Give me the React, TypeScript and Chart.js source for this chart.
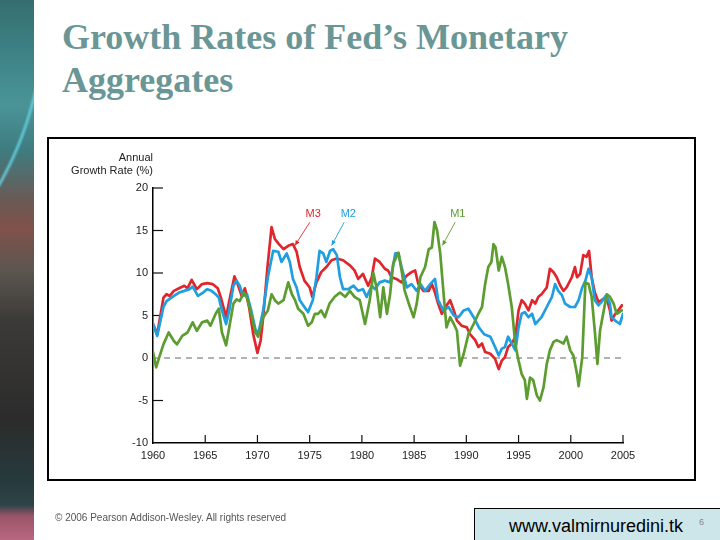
import React, { useEffect, useRef } from 'react';
import { Chart, registerables } from 'chart.js';

Chart.register(...registerables);

// ---------- axis ----------
const X_MIN = 1960;
const X_MAX = 2005;
const Y_MIN = -10;
const Y_MAX = 20;
const X_TICKS = [1960, 1965, 1970, 1975, 1980, 1985, 1990, 1995, 2000, 2005];
const Y_TICKS = [20, 15, 10, 5, 0, -5, -10];

// ---------- M3 (red) ----------
const m3Dates = [
  1960.0, 1960.4, 1961.0, 1961.3, 1961.6, 1962.0, 1962.5, 1963.0, 1963.3, 1963.7,
  1964.2, 1964.7, 1965.2, 1965.7, 1966.2, 1966.5, 1967.0, 1967.3, 1967.8, 1968.1,
  1968.5, 1968.8, 1969.2, 1969.6, 1970.0, 1970.3, 1970.55, 1970.96, 1971.35, 1971.67,
  1972.05, 1972.5, 1972.95, 1973.4, 1973.75, 1974.05, 1974.5, 1975.0, 1975.25, 1975.65,
  1976.1, 1976.6, 1977.1, 1977.6, 1978.2, 1978.85, 1979.3, 1979.65, 1980.1, 1980.6,
  1980.95, 1981.25, 1981.7, 1982.2, 1982.5, 1982.85, 1983.3, 1983.8, 1984.3, 1984.75,
  1985.1, 1985.4, 1985.9, 1986.4, 1986.7, 1987.0, 1987.3, 1987.65, 1988.0, 1988.45,
  1988.8, 1989.1, 1989.55, 1990.05, 1990.35, 1990.85, 1991.15, 1991.5, 1991.8, 1992.3,
  1992.75, 1993.1, 1993.4, 1993.7, 1994.0, 1994.35, 1994.7, 1995.0, 1995.3, 1995.6,
  1995.95, 1996.3, 1996.6, 1996.9, 1997.2, 1997.7, 1998.0, 1998.35, 1998.65, 1999.0,
  1999.3, 1999.6, 2000.1, 2000.4, 2000.6, 2000.9, 2001.2, 2001.5, 2001.75, 2002.0,
  2002.3, 2002.65, 2002.95, 2003.4, 2003.75, 2003.9, 2004.25, 2004.55, 2004.9,
];
const m3Rates = [
  4.0, 2.8, 7.1, 7.5, 7.3, 7.9, 8.2, 8.5, 8.2, 9.2,
  8.1, 8.7, 8.8, 8.7, 8.2, 7.1, 4.8, 6.7, 9.6, 8.7,
  7.3, 8.2, 6.0, 2.8, 0.6, 2.0, 4.8, 10.7, 15.4, 14.0,
  13.4, 12.8, 13.2, 13.4, 12.5, 10.7, 9.1, 8.3, 7.2, 8.9,
  10.1, 10.7, 11.5, 11.7, 11.5, 10.9, 10.3, 9.3, 9.9, 8.5,
  9.5, 11.7, 11.3, 10.5, 10.3, 9.5, 9.3, 8.9, 9.7, 10.1,
  10.3, 8.7, 7.9, 7.9, 8.7, 7.7, 6.4, 5.2, 6.0, 6.8,
  5.6, 4.4, 3.8, 3.6, 2.8, 2.1, 1.3, 1.7, 0.7, 0.5,
  -0.1, -1.3, -0.3, 0.1, 1.3, 1.7, 2.5, 5.6, 6.8, 6.4,
  5.6, 6.8, 6.4, 7.2, 7.5, 8.3, 10.5, 10.1, 9.5, 8.5,
  7.9, 8.3, 9.5, 10.7, 9.5, 9.9, 12.1, 11.9, 12.6, 9.5,
  7.7, 6.6, 6.8, 7.2, 5.6, 4.4, 5.2, 5.6, 6.2,
];

// ---------- M2 (blue) ----------
const m2Dates = [
  1960.0, 1960.4, 1961.0, 1961.3, 1962.0, 1962.5, 1963.0, 1963.5, 1963.8, 1964.3,
  1964.8, 1965.2, 1965.6, 1966.0, 1966.3, 1966.6, 1967.0, 1967.3, 1967.7, 1968.0,
  1968.3, 1968.6, 1969.0, 1969.4, 1969.8, 1970.07, 1970.55, 1971.0, 1971.5, 1972.0,
  1972.3, 1972.8, 1973.1, 1973.4, 1973.75, 1974.05, 1974.5, 1974.85, 1975.3, 1975.65,
  1975.95, 1976.3, 1976.6, 1976.95, 1977.25, 1977.6, 1977.9, 1978.2, 1978.7, 1979.2,
  1979.65, 1980.1, 1980.45, 1980.95, 1981.25, 1981.7, 1982.2, 1982.7, 1983.2, 1983.5,
  1983.8, 1984.3, 1984.75, 1985.25, 1985.6, 1986.05, 1986.55, 1987.0, 1987.3, 1987.8,
  1988.3, 1988.8, 1989.25, 1989.75, 1990.2, 1990.7, 1991.2, 1991.7, 1992.3, 1992.75,
  1993.1, 1993.4, 1993.7, 1994.0, 1994.35, 1994.7, 1995.0, 1995.3, 1995.6, 1995.95,
  1996.3, 1996.6, 1996.9, 1997.2, 1997.7, 1998.2, 1998.5, 1998.8, 1999.15, 1999.45,
  1999.95, 2000.4, 2000.75, 2001.1, 2001.4, 2001.7, 2002.0, 2002.3, 2002.65, 2002.95,
  2003.4, 2003.75, 2003.9, 2004.25, 2004.7, 2005.0,
];
const m2Rates = [
  4.0, 2.6, 6.0, 6.7, 7.3, 7.7, 7.9, 8.1, 8.4, 7.3,
  7.7, 8.1, 7.9, 7.5, 7.1, 5.6, 4.0, 5.6, 8.5, 9.1,
  8.5, 7.3, 7.5, 5.6, 3.4, 2.8, 5.6, 9.5, 12.6, 12.5,
  11.3, 12.3, 11.3, 9.3, 8.3, 6.8, 6.0, 5.4, 6.8, 9.5,
  12.6, 12.3, 11.3, 12.6, 12.8, 12.1, 9.5, 8.1, 8.1, 8.5,
  7.9, 8.1, 7.2, 8.5, 8.1, 8.9, 9.1, 8.9, 12.3, 12.3,
  10.7, 8.3, 8.7, 7.9, 8.7, 7.9, 8.7, 9.3, 6.8, 5.6,
  6.0, 5.0, 4.8, 5.6, 5.8, 4.8, 3.6, 2.8, 2.5, 1.3,
  0.3, 1.1, 1.3, 2.5, 1.7, 0.9, 3.6, 5.2, 5.4, 4.8,
  5.2, 4.0, 4.4, 4.8, 6.0, 7.2, 8.7, 7.9, 7.4, 6.4,
  6.0, 6.0, 6.8, 8.3, 9.1, 10.5, 9.5, 6.8, 6.2, 6.6,
  7.4, 6.4, 4.8, 4.4, 4.0, 5.2,
];

// ---------- M1 (green) ----------
const m1Dates = [
  1960.0, 1960.3, 1960.6, 1961.0, 1961.5, 1962.0, 1962.3, 1962.8, 1963.3, 1963.8,
  1964.2, 1964.7, 1965.2, 1965.5, 1966.0, 1966.3, 1966.6, 1967.0, 1967.3, 1967.7,
  1968.0, 1968.3, 1968.7, 1969.0, 1969.4, 1969.8, 1970.07, 1970.55, 1971.0, 1971.35,
  1971.67, 1972.0, 1972.5, 1972.95, 1973.3, 1973.6, 1973.9, 1974.4, 1974.85, 1975.2,
  1975.5, 1975.8, 1976.1, 1976.45, 1976.9, 1977.4, 1977.9, 1978.4, 1978.85, 1979.3,
  1979.8, 1980.3, 1980.75, 1981.1, 1981.4, 1981.75, 1982.05, 1982.4, 1982.7, 1983.0,
  1983.5, 1983.8, 1984.1, 1984.6, 1984.95, 1985.25, 1985.6, 1986.05, 1986.4, 1986.7,
  1986.95, 1987.2, 1987.5, 1987.8, 1988.1, 1988.45, 1988.8, 1989.1, 1989.4, 1989.75,
  1990.2, 1990.7, 1991.15, 1991.5, 1991.8, 1992.1, 1992.4, 1992.6, 1992.8, 1993.1,
  1993.4, 1993.7, 1994.0, 1994.35, 1994.7, 1995.0, 1995.3, 1995.6, 1995.8, 1996.1,
  1996.4, 1996.75, 1997.05, 1997.4, 1997.7, 1998.0, 1998.35, 1998.65, 1999.0, 1999.3,
  1999.6, 1999.95, 2000.25, 2000.6, 2000.75, 2001.1, 2001.4, 2001.7, 2002.0, 2002.3,
  2002.55, 2002.8, 2003.1, 2003.45, 2003.75, 2004.1, 2004.4, 2004.9,
];
const m1Rates = [
  0.7, -1.1, 0.1, 1.6, 3.0, 2.0, 1.6, 2.6, 3.0, 4.2,
  3.2, 4.2, 4.4, 3.8, 5.2, 5.8, 3.0, 1.5, 3.6, 6.4,
  6.9, 6.7, 7.7, 7.1, 5.2, 3.0, 2.5, 4.8, 5.6, 7.5,
  6.8, 6.4, 6.8, 8.9, 7.5, 6.8, 5.8, 5.2, 3.8, 4.2,
  5.2, 5.2, 5.6, 4.8, 6.4, 7.2, 7.7, 7.2, 7.9, 7.2,
  6.8, 4.0, 6.8, 10.0, 8.3, 4.8, 8.3, 5.2, 7.5, 11.1,
  12.4, 10.3, 7.9, 6.0, 4.8, 6.4, 9.5, 10.7, 12.8, 13.0,
  16.0, 15.0, 12.3, 7.9, 3.6, 4.8, 4.0, 3.2, -0.9, 0.5,
  2.8, 4.0, 5.2, 6.0, 8.7, 10.7, 11.3, 13.4, 13.0, 10.3,
  11.9, 10.7, 8.7, 6.0, 1.5, -0.3, -1.9, -2.6, -4.8, -2.3,
  -2.6, -4.4, -5.0, -3.4, -0.7, 0.9, 1.9, 2.1, 1.9, 1.7,
  2.5, 0.9, 0.3, -1.9, -3.3, 0.1, 8.9, 8.7, 7.2, 3.2,
  -0.7, 3.2, 5.2, 7.5, 7.2, 6.4, 5.2, 5.6,
];

const RED = '#e0262c';
const BLUE = '#1f9fe0';
const GREEN = '#5c9c30';

// labels with pointer arrows, in data units: [label year, label value, arrow start, arrow end]
const NOTES = [
  { text: 'M3', color: RED, at: [1975.34, 16.96], from: [1975.02, 15.98], to: [1973.59, 13.24] },
  { text: 'M2', color: BLUE, at: [1978.7, 16.96], from: [1978.31, 15.98], to: [1977.1, 13.24] },
  { text: 'M1', color: GREEN, at: [1989.18, 16.96], from: [1988.93, 15.98], to: [1987.71, 13.24] },
];

const FONT = '"Liberation Sans", Arial, Helvetica, sans-serif';

const overlay = {
  id: 'overlay',
  beforeDatasetsDraw(chart: any) {
    const { ctx, chartArea: a, scales } = chart;
    const x = scales.x;
    const y = scales.y;
    ctx.save();
    // zero reference line
    ctx.strokeStyle = '#666';
    ctx.lineWidth = 1;
    ctx.setLineDash([6, 5]);
    const y0 = y.getPixelForValue(0);
    ctx.beginPath();
    ctx.moveTo(a.left, y0);
    ctx.lineTo(a.right, y0);
    ctx.stroke();
    ctx.setLineDash([]);
    // inward tick marks
    ctx.strokeStyle = '#111';
    ctx.lineWidth = 1.2;
    Y_TICKS.forEach((v) => {
      if (v === Y_MIN || v === 0) return;
      const p = y.getPixelForValue(v);
      ctx.beginPath();
      ctx.moveTo(a.left, p);
      ctx.lineTo(a.left + 10, p);
      ctx.stroke();
    });
    X_TICKS.forEach((v) => {
      if (v === X_MIN) return;
      const p = x.getPixelForValue(v);
      ctx.beginPath();
      ctx.moveTo(p, a.bottom);
      ctx.lineTo(p, a.bottom - 8);
      ctx.stroke();
    });
    // axis title
    ctx.fillStyle = '#222';
    ctx.font = `11px ${FONT}`;
    ctx.textAlign = 'right';
    ctx.textBaseline = 'middle';
    ctx.fillText('Annual', a.left, a.top - 30);
    ctx.fillText('Growth Rate (%)', a.left, a.top - 17.5);
    ctx.restore();
  },
  afterDatasetsDraw(chart: any) {
    const { ctx, scales } = chart;
    const x = scales.x;
    const y = scales.y;
    ctx.save();
    NOTES.forEach((n) => {
      ctx.fillStyle = n.color;
      ctx.strokeStyle = n.color;
      ctx.font = `11px ${FONT}`;
      ctx.textAlign = 'center';
      ctx.textBaseline = 'middle';
      ctx.fillText(n.text, x.getPixelForValue(n.at[0]), y.getPixelForValue(n.at[1]));
      const x1 = x.getPixelForValue(n.from[0]);
      const y1 = y.getPixelForValue(n.from[1]);
      const x2 = x.getPixelForValue(n.to[0]);
      const y2 = y.getPixelForValue(n.to[1]);
      ctx.lineWidth = 0.9;
      ctx.beginPath();
      ctx.moveTo(x1, y1);
      ctx.lineTo(x2, y2);
      ctx.stroke();
      const ang = Math.atan2(y2 - y1, x2 - x1);
      const L = 5;
      const W = 2.2;
      ctx.beginPath();
      ctx.moveTo(x2, y2);
      ctx.lineTo(x2 - L * Math.cos(ang) + W * Math.sin(ang), y2 - L * Math.sin(ang) - W * Math.cos(ang));
      ctx.lineTo(x2 - L * Math.cos(ang) - W * Math.sin(ang), y2 - L * Math.sin(ang) + W * Math.cos(ang));
      ctx.closePath();
      ctx.fill();
    });
    ctx.restore();
  },
};

export default function App() {
  const ref = useRef<HTMLCanvasElement>(null);

  useEffect(() => {
    if (!ref.current) return;
    const toPts = (d: number[], v: number[]) => d.map((t, i) => ({ x: t, y: v[i] }));
    const line = (label: string, color: string, d: number[], v: number[], order: number) => ({
      label,
      data: toPts(d, v),
      borderColor: color,
      backgroundColor: color,
      borderWidth: 2.7,
      pointRadius: 0,
      tension: 0,
      fill: false,
      borderJoinStyle: 'round' as const,
      borderCapStyle: 'round' as const,
      order,
    });
    const chart = new Chart(ref.current, {
      type: 'line',
      data: {
        datasets: [
          line('M1', GREEN, m1Dates, m1Rates, 0),
          line('M2', BLUE, m2Dates, m2Rates, 1),
          line('M3', RED, m3Dates, m3Rates, 2),
        ],
      },
      options: {
        responsive: false,
        animation: false,
        layout: { padding: { left: 103, top: 188, right: 97, bottom: 67 } },
        plugins: { legend: { display: false }, tooltip: { enabled: false } },
        scales: {
          x: {
            type: 'linear',
            min: X_MIN,
            max: X_MAX,
            afterFit: (s: any) => { s.height = 30; },
            afterBuildTicks: (s: any) => { s.ticks = X_TICKS.map((v) => ({ value: v })); },
            ticks: {
              callback: (v: any) => String(v),
              color: '#222',
              font: { size: 11, family: FONT },
              padding: 6,
              maxRotation: 0,
              autoSkip: false,
            },
            grid: { display: true, drawOnChartArea: false, drawTicks: false },
            border: { display: true, color: '#000', width: 1.5 },
          },
          y: {
            type: 'linear',
            min: Y_MIN,
            max: Y_MAX,
            afterFit: (s: any) => { s.width = 50; },
            afterBuildTicks: (s: any) => { s.ticks = Y_TICKS.map((v) => ({ value: v })); },
            ticks: {
              callback: (v: any) => String(v),
              color: '#222',
              font: { size: 11, family: FONT },
              padding: 5,
              autoSkip: false,
            },
            grid: { display: true, drawOnChartArea: false, drawTicks: false },
            border: { display: true, color: '#000', width: 1.5 },
          },
        },
      } as any,
      plugins: [overlay],
    });
    return () => chart.destroy();
  }, []);

  return (
    <div
      style={{
        position: 'fixed',
        left: 0,
        top: 0,
        width: 720,
        height: 540,
        background: '#fff',
        overflow: 'hidden',
        fontFamily: FONT,
      }}
    >
      {/* decorative left strip */}
      <div
        style={{
          position: 'absolute',
          left: 0,
          top: 0,
          width: 34,
          height: 540,
          background:
            'linear-gradient(180deg, #356e70 0px, #3f8588 60px, #4a9498 105px, #3e7c80 150px, #6a5a55 200px, #80524a 228px, #5c5650 270px, #3c3a38 320px, #2c2c2c 420px, #263a3c 480px, #2d4446 505px, #9a5468 516px, #b86880 540px)',
        }}
      />
      <div
        style={{
          position: 'absolute',
          left: 0,
          top: 0,
          width: 34,
          height: 540,
          background:
            'radial-gradient(circle 347px at -300px 15px, transparent 98.3%, rgba(100,205,220,0.85) 99.1%, transparent 100%)',
        }}
      />
      {/* title */}
      <div
        style={{
          position: 'absolute',
          left: 62,
          top: 16,
          fontFamily: '"Liberation Serif", "Times New Roman", serif',
          fontWeight: 'bold',
          fontSize: 36,
          lineHeight: '43px',
          color: '#6a9696',
          whiteSpace: 'nowrap',
        }}
      >
        Growth Rates of Fed’s Monetary
        <br />
        Aggregates
      </div>
      {/* chart frame */}
      <div
        style={{
          position: 'absolute',
          left: 47,
          top: 137,
          width: 649,
          height: 344,
          border: '2px solid #000',
          boxSizing: 'border-box',
        }}
      />
      <canvas
        ref={ref}
        width={720}
        height={540}
        style={{ position: 'absolute', left: 0, top: 0, width: 720, height: 540 }}
      />
      {/* footer */}
      <div
        style={{
          position: 'absolute',
          left: 55,
          top: 512,
          fontSize: 10,
          color: '#555',
          whiteSpace: 'nowrap',
        }}
      >
        © 2006 Pearson Addison-Wesley. All rights reserved
      </div>
      <div
        style={{
          position: 'absolute',
          left: 474,
          top: 508,
          width: 260,
          height: 40,
          background: '#cde6ea',
          borderLeft: '1px solid #000',
          borderTop: '1px solid #000',
          boxSizing: 'border-box',
        }}
      />
      <div
        style={{
          position: 'absolute',
          left: 509,
          top: 515,
          fontSize: 18,
          lineHeight: '22px',
          color: '#000',
          whiteSpace: 'nowrap',
        }}
      >
        www.valmirnuredini.tk
      </div>
      <div
        style={{
          position: 'absolute',
          left: 699,
          top: 517,
          fontSize: 9,
          color: '#888',
        }}
      >
        6
      </div>
    </div>
  );
}
